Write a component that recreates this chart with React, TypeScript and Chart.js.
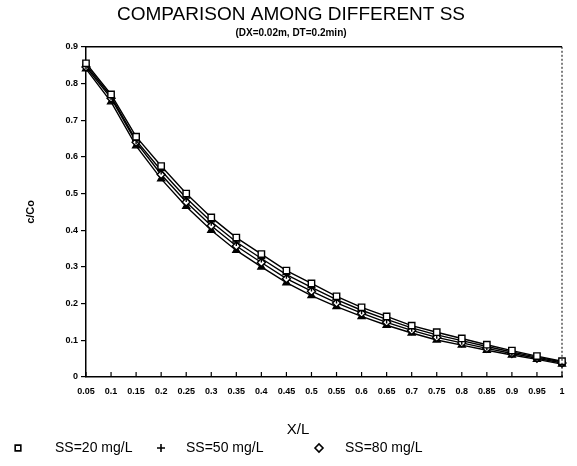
import React, { useEffect, useRef } from 'react';
import { Chart, registerables } from 'chart.js';
import { drawPoint } from 'chart.js/helpers';

Chart.register(...registerables);

const xLabels = ['0.05', '0.1', '0.15', '0.2', '0.25', '0.3', '0.35', '0.4', '0.45', '0.5', '0.55', '0.6', '0.65', '0.7', '0.75', '0.8', '0.85', '0.9', '0.95', '1'];

const ss20 = [0.855, 0.77, 0.655, 0.575, 0.5, 0.435, 0.38, 0.335, 0.29, 0.255, 0.22, 0.19, 0.165, 0.14, 0.122, 0.105, 0.088, 0.072, 0.057, 0.043];
const ss50 = [0.85, 0.765, 0.645, 0.563, 0.488, 0.423, 0.368, 0.323, 0.279, 0.244, 0.211, 0.182, 0.157, 0.134, 0.115, 0.099, 0.083, 0.068, 0.054, 0.041];
const ss80 = [0.845, 0.76, 0.64, 0.552, 0.477, 0.412, 0.357, 0.312, 0.268, 0.234, 0.202, 0.174, 0.149, 0.127, 0.108, 0.093, 0.078, 0.064, 0.051, 0.038];
const ssHigh = [0.84, 0.75, 0.63, 0.54, 0.465, 0.4, 0.345, 0.3, 0.257, 0.222, 0.192, 0.165, 0.141, 0.12, 0.101, 0.087, 0.073, 0.06, 0.048, 0.035];

const seriesLabels = ['SS=20 mg/L', 'SS=50 mg/L', 'SS=80 mg/L', 'SS=110 mg/L'];

const titleText = 'COMPARISON AMONG DIFFERENT SS';
const subtitleText = '(DX=0.02m, DT=0.2min)';
const xTitle = 'X/L';
const yTitle = 'c/Co';

const FONT = "'Liberation Sans', Arial, sans-serif";

const frameAndTicks = {
  id: 'frameAndTicks',
  afterDatasetsDraw(chart: any) {
    const { ctx, chartArea } = chart;
    const xs = chart.scales.x;
    ctx.save();
    ctx.strokeStyle = '#000';
    ctx.lineWidth = 1.5;
    ctx.beginPath();
    ctx.moveTo(chartArea.left, chartArea.top);
    ctx.lineTo(chartArea.right, chartArea.top);
    ctx.stroke();
    ctx.lineWidth = 1;
    ctx.setLineDash([2, 2]);
    ctx.beginPath();
    ctx.moveTo(chartArea.right, chartArea.top);
    ctx.lineTo(chartArea.right, chartArea.bottom);
    ctx.stroke();
    ctx.setLineDash([]);
    ctx.lineWidth = 1.2;
    for (let i = 0; i < xLabels.length; i++) {
      const px = xs.getPixelForTick(i);
      ctx.beginPath();
      ctx.moveTo(px, chartArea.bottom);
      ctx.lineTo(px, chartArea.bottom - 5);
      ctx.stroke();
    }
    ctx.restore();
  },
};

const bottomLegend = {
  id: 'bottomLegend',
  afterDraw(chart: any) {
    const { ctx } = chart;
    const items = [
      { ds: 0, mx: 18, tx: 55 },
      { ds: 1, mx: 161, tx: 186 },
      { ds: 2, mx: 319, tx: 345 },
    ];
    const y = 448;
    ctx.save();
    // x-axis title, placed as in the original figure
    ctx.fillStyle = '#000';
    ctx.font = `15px ${FONT}`;
    ctx.textBaseline = 'middle';
    ctx.textAlign = 'center';
    ctx.fillText(xTitle, 298, 430);
    items.forEach((it) => {
      const ds = chart.data.datasets[it.ds];
      ctx.strokeStyle = '#000';
      ctx.fillStyle = ds.pointBackgroundColor;
      ctx.lineWidth = 1.6;
      drawPoint(ctx, { pointStyle: ds.pointStyle, radius: 4, rotation: 0, borderWidth: 1.6 }, it.mx, y);
      ctx.fillStyle = '#000';
      ctx.font = `14px ${FONT}`;
      ctx.textBaseline = 'middle';
      ctx.textAlign = 'left';
      ctx.fillText(ds.label, it.tx, y);
    });
    ctx.restore();
  },
};

export default function App() {
  const canvasRef = useRef<HTMLCanvasElement | null>(null);

  useEffect(() => {
    const canvas = canvasRef.current;
    if (!canvas) return;
    const mk = (label: string, data: number[], style: string, fill: string, radius: number) => ({
      label,
      data,
      borderColor: '#000',
      borderWidth: 1.4,
      pointStyle: style,
      pointRadius: radius,
      pointBorderColor: '#000',
      pointBackgroundColor: fill,
      pointBorderWidth: 1.4,
      fill: false,
      tension: 0,
    });
    const chart = new Chart(canvas, {
      type: 'line',
      data: {
        labels: xLabels,
        datasets: [
          mk(seriesLabels[0], ss20, 'rect', '#fff', 4.5),
          mk(seriesLabels[1], ss50, 'cross', '#000', 4),
          mk(seriesLabels[2], ss80, 'rectRot', '#fff', 4),
          mk(seriesLabels[3], ssHigh, 'triangle', '#000', 4),
        ],
      },
      options: {
        responsive: false,
        animation: false,
        layout: { padding: { left: 20, right: 15, top: 1, bottom: 28 } },
        plugins: {
          legend: { display: false },
          tooltip: { enabled: false },
          title: {
            display: true,
            text: titleText,
            color: '#000',
            font: { family: FONT, size: 19, weight: 'normal' },
            padding: { top: 2, bottom: 1 },
          },
          subtitle: {
            display: true,
            text: subtitleText,
            color: '#000',
            font: { family: FONT, size: 10, weight: 'bold' },
            padding: { top: 0, bottom: 8 },
          },
        },
        scales: {
          x: {
            type: 'category',
            offset: false,
            grid: { display: false },
            border: { display: true, color: '#000', width: 1.5 },
            ticks: {
              color: '#000',
              font: { family: FONT, size: 9, weight: 'bold' },
              maxRotation: 0,
              autoSkip: false,
              padding: 1,
            },
            title: { display: false, text: xTitle },
            afterFit: (s: any) => {
              s.height = 61;
            },
          },
          y: {
            min: 0,
            max: 0.9,
            grid: { drawOnChartArea: false, color: '#000', tickLength: 5, lineWidth: 1.2 },
            border: { display: true, color: '#000', width: 1.5 },
            ticks: {
              stepSize: 0.1,
              color: '#000',
              font: { family: FONT, size: 9, weight: 'bold' },
              padding: 3,
              callback: (v: any) => (Number(v) === 0 ? '0' : Number(v).toFixed(1)),
            },
            title: {
              display: true,
              text: yTitle,
              color: '#000',
              font: { family: FONT, size: 11, weight: 'bold' },
            },
            afterFit: (s: any) => {
              s.width = 66;
            },
          },
        },
      },
      plugins: [frameAndTicks, bottomLegend],
    } as any);
    return () => chart.destroy();
  }, []);

  return (
    <div style={{ position: 'fixed', left: 0, top: 0, width: 577, height: 466, background: '#fff' }}>
      <canvas ref={canvasRef} width={577} height={466} />
    </div>
  );
}
